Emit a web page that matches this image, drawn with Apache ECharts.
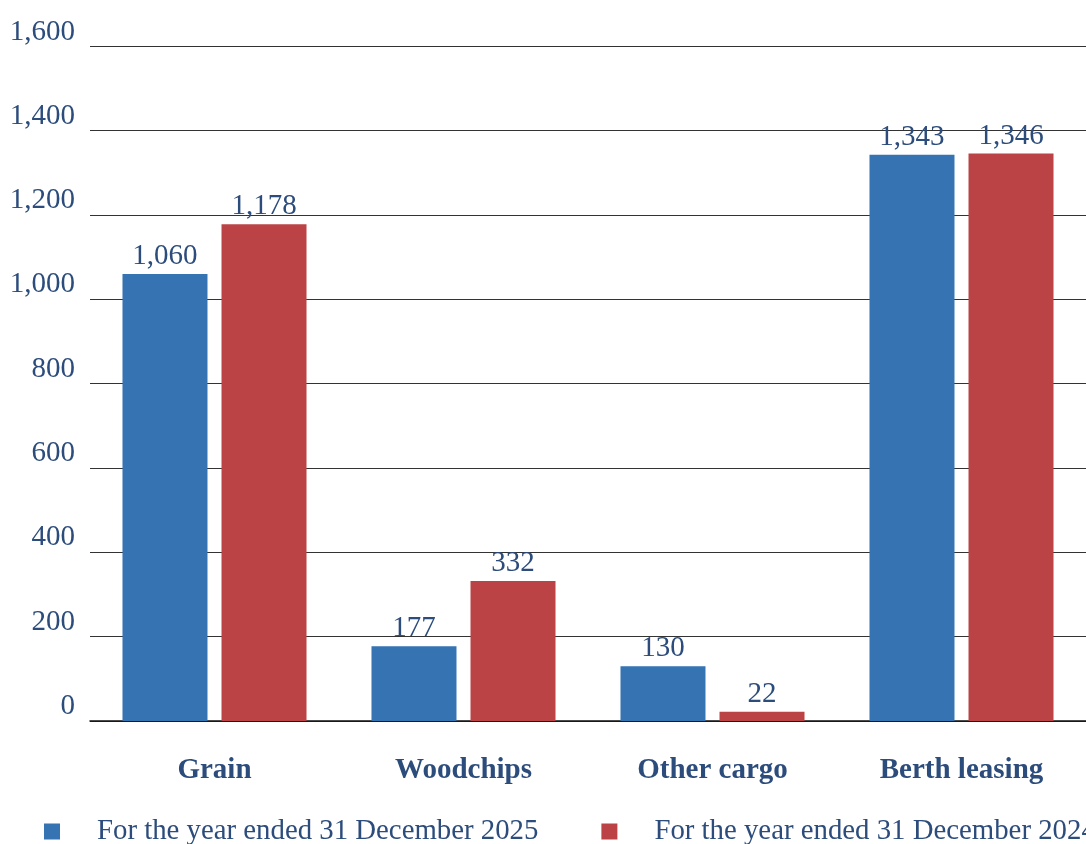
<!DOCTYPE html>
<html>
<head>
<meta charset="utf-8">
<script src="https://cdn.jsdelivr.net/npm/echarts@6/dist/echarts.min.js"></script>
<style>
html,body{margin:0;padding:0;background:#fff;}
#chart{width:1086px;height:844px;}
</style>
</head>
<body>
<div id="chart"></div>
<script>
const categories = ['Grain', 'Woodchips', 'Other cargo', 'Berth leasing'];
const seriesNames = ['For the year ended 31 December 2025', 'For the year ended 31 December 2024'];
const values2025 = [1060, 177, 130, 1343];
const values2024 = [1178, 332, 22, 1346];
const yTicks = [0, 200, 400, 600, 800, 1000, 1200, 1400, 1600];

const textColor = '#2C4C7C';
const font = '"Liberation Serif", "DejaVu Serif", serif';

const chart = echarts.init(document.getElementById('chart'), null, {renderer: 'canvas'});
const fmt = v => Number(v).toLocaleString('en-US');

const labelCfg = {
  show: true,
  position: 'top',
  distance: 3,
  color: textColor,
  fontFamily: font,
  fontSize: 29,
  formatter: p => fmt(p.value)
};

chart.setOption({
  animation: false,
  backgroundColor: '#ffffff',
  grid: {left: 90, right: -3, top: 46.4, bottom: 123, containLabel: false},
  legend: {
    type: 'plain',
    orient: 'horizontal',
    left: 39,
    top: 812,
    width: 1400,
    itemWidth: 16,
    itemHeight: 16,
    itemGap: 63,
    icon: 'rect',
    textStyle: {color: textColor, fontFamily: font, fontSize: 28.8, padding: [0, 0, 0, 32]},
    data: seriesNames
  },
  xAxis: {
    type: 'category',
    data: categories,
    axisLine: {show: true, lineStyle: {color: '#111', width: 1.5}},
    axisTick: {show: false},
    axisLabel: {color: textColor, fontFamily: font, fontSize: 29, fontWeight: 'bold', margin: 35}
  },
  yAxis: {
    type: 'value',
    min: yTicks[0],
    max: yTicks[yTicks.length - 1],
    interval: yTicks[1] - yTicks[0],
    axisLine: {show: false},
    axisTick: {show: false},
    splitLine: {show: true, lineStyle: {color: '#333', width: 1.2}},
    axisLabel: {
      color: textColor, fontFamily: font, fontSize: 29, margin: 15,
      verticalAlign: 'bottom', lineHeight: 29,
      formatter: v => fmt(v)
    }
  },
  series: [
    {
      name: seriesNames[0], type: 'bar', data: values2025,
      barWidth: 85, barGap: '16.5%',
      itemStyle: {color: '#3573B3'},
      label: labelCfg
    },
    {
      name: seriesNames[1], type: 'bar', data: values2024,
      barWidth: 85,
      itemStyle: {color: '#BC4345'},
      label: labelCfg
    }
  ]
});
</script>
</body>
</html>
